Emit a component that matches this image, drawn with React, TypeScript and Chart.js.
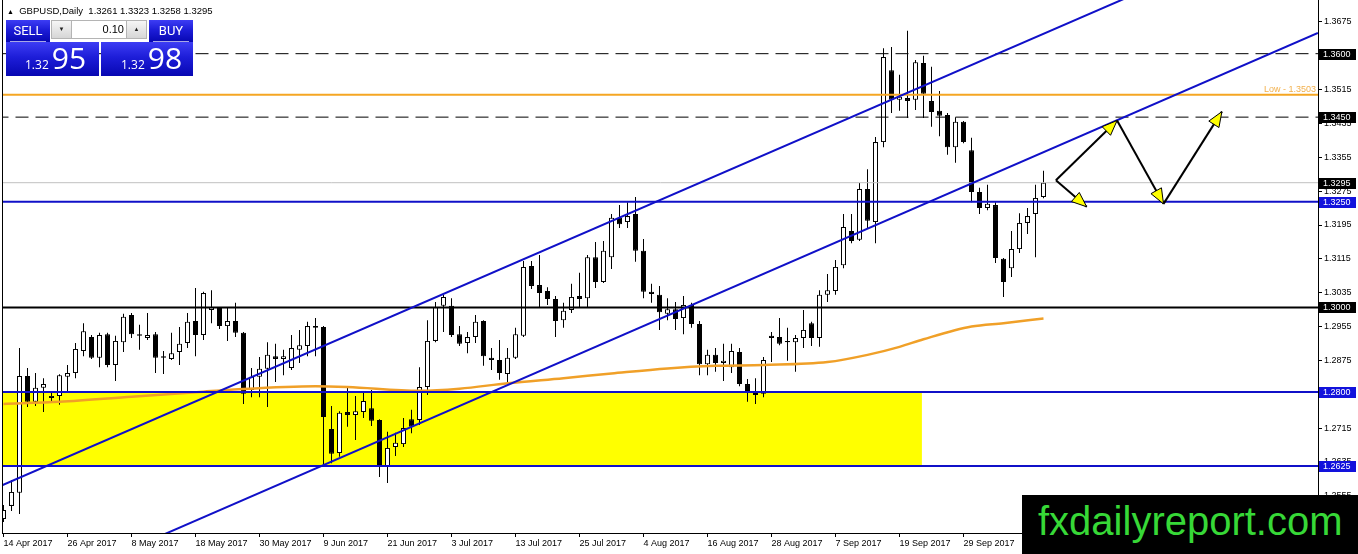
import React, { useEffect, useRef } from "react";
import { Chart, registerables } from "chart.js";

Chart.register(...registerables);

const W = 1358;
const H = 554;

// ---- data ----
const tickLabels = [
  "14 Apr 2017", "26 Apr 2017", "8 May 2017", "18 May 2017", "30 May 2017", "9 Jun 2017",
  "21 Jun 2017", "3 Jul 2017", "13 Jul 2017", "25 Jul 2017", "4 Aug 2017", "16 Aug 2017",
  "28 Aug 2017", "7 Sep 2017", "19 Sep 2017", "29 Sep 2017", "11 Oct 2017",
];
const yTicks = [1.2555, 1.2635, 1.2715, 1.2795, 1.2875, 1.2955, 1.3035, 1.3115, 1.3195, 1.3275, 1.3355, 1.3435, 1.3515, 1.3595, 1.3675];

const opens = [
  1.2500, 1.2531, 1.2562, 1.2838, 1.2777, 1.2810, 1.2786, 1.2791, 1.2836, 1.2845,
  1.2897, 1.2930, 1.2881, 1.2937, 1.2864, 1.2918, 1.2982, 1.2937, 1.2928, 1.2937,
  1.2885, 1.2878, 1.2895, 1.2916, 1.2968, 1.2935, 1.2994, 1.2999, 1.2956, 1.2968,
  1.2940, 1.2805, 1.2836, 1.2855, 1.2885, 1.2878, 1.2857, 1.2900, 1.2909, 1.2956,
  1.2954, 1.2713, 1.2656, 1.2753, 1.2746, 1.2753, 1.2762, 1.2734, 1.2625, 1.2670,
  1.2677, 1.2736, 1.2734, 1.2812, 1.2921, 1.3004, 1.3004, 1.2937, 1.2916, 1.2930,
  1.2968, 1.2881, 1.2876, 1.2843, 1.2881, 1.2933, 1.3098, 1.3053, 1.3039, 1.3020,
  1.2970, 1.2994, 1.3027, 1.3022, 1.3119, 1.3060, 1.3119, 1.3212, 1.3202, 1.3221,
  1.3134, 1.3037, 1.3030, 1.2985, 1.2996, 1.2975, 1.3006, 1.2961, 1.2866, 1.2888,
  1.2869, 1.2859, 1.2895, 1.2819, 1.2798, 1.2796, 1.2933, 1.2930, 1.2921, 1.2918,
  1.2928, 1.2963, 1.2928, 1.3030, 1.3039, 1.3100, 1.3181, 1.3160, 1.3280, 1.3202,
  1.3391, 1.3561, 1.3491, 1.3495, 1.3491, 1.3578, 1.3488, 1.3465, 1.3455, 1.3379,
  1.3439, 1.3372, 1.3273, 1.3235, 1.3242, 1.3115, 1.3093, 1.3138, 1.3200, 1.3221,
  1.3261,
];
const highs = [
  1.2533, 1.2592, 1.2904, 1.2857, 1.2845, 1.2833, 1.2798, 1.2842, 1.2864, 1.2916,
  1.2963, 1.2935, 1.2940, 1.2940, 1.2933, 1.2985, 1.2987, 1.2959, 1.2987, 1.2942,
  1.2897, 1.2940, 1.2954, 1.2987, 1.3046, 1.3037, 1.3041, 1.3001, 1.2999, 1.3011,
  1.2942, 1.2857, 1.2883, 1.2918, 1.2914, 1.2900, 1.2935, 1.2947, 1.2966, 1.2975,
  1.2956, 1.2767, 1.2755, 1.2814, 1.2791, 1.2800, 1.2805, 1.2736, 1.2706, 1.2704,
  1.2739, 1.2758, 1.2859, 1.2970, 1.3013, 1.3030, 1.3022, 1.2956, 1.2942, 1.2982,
  1.2970, 1.2904, 1.2923, 1.2904, 1.2952, 1.3110, 1.3110, 1.3124, 1.3048, 1.3027,
  1.3011, 1.3056, 1.3082, 1.3124, 1.3155, 1.3157, 1.3221, 1.3242, 1.3249, 1.3261,
  1.3162, 1.3056, 1.3051, 1.3022, 1.3013, 1.3027, 1.3011, 1.2968, 1.2900, 1.2904,
  1.2914, 1.2914, 1.2904, 1.2831, 1.2833, 1.2883, 1.2942, 1.2975, 1.2952, 1.2935,
  1.2994, 1.2966, 1.3041, 1.3079, 1.3112, 1.3221, 1.3221, 1.3294, 1.3327, 1.3403,
  1.3613, 1.3616, 1.3550, 1.3654, 1.3585, 1.3595, 1.3569, 1.3512, 1.3460, 1.3450,
  1.3441, 1.3401, 1.3283, 1.3290, 1.3249, 1.3117, 1.3181, 1.3223, 1.3235, 1.3290,
  1.3323,
];
const lows = [
  1.2493, 1.2519, 1.2512, 1.2765, 1.2767, 1.2753, 1.2777, 1.2770, 1.2798, 1.2833,
  1.2885, 1.2878, 1.2859, 1.2859, 1.2826, 1.2895, 1.2928, 1.2900, 1.2923, 1.2845,
  1.2843, 1.2876, 1.2864, 1.2904, 1.2885, 1.2923, 1.2963, 1.2949, 1.2921, 1.2930,
  1.2772, 1.2788, 1.2788, 1.2765, 1.2824, 1.2840, 1.2852, 1.2869, 1.2885, 1.2885,
  1.2628, 1.2632, 1.2647, 1.2718, 1.2687, 1.2739, 1.2720, 1.2599, 1.2585, 1.2649,
  1.2670, 1.2703, 1.2722, 1.2793, 1.2918, 1.2942, 1.2930, 1.2909, 1.2892, 1.2916,
  1.2862, 1.2852, 1.2829, 1.2822, 1.2878, 1.2930, 1.3044, 1.3001, 1.3006, 1.2930,
  1.2952, 1.2987, 1.3001, 1.3001, 1.3046, 1.3058, 1.3091, 1.3188, 1.3188, 1.3108,
  1.3022, 1.3011, 1.2947, 1.2970, 1.2947, 1.2937, 1.2952, 1.2840, 1.2840, 1.2848,
  1.2826, 1.2845, 1.2814, 1.2777, 1.2772, 1.2788, 1.2871, 1.2911, 1.2874, 1.2848,
  1.2904, 1.2909, 1.2907, 1.3013, 1.3030, 1.3093, 1.3152, 1.3157, 1.3188, 1.3152,
  1.3379, 1.3460, 1.3465, 1.3448, 1.3467, 1.3448, 1.3427, 1.3405, 1.3361, 1.3342,
  1.3388, 1.3249, 1.3221, 1.3230, 1.3105, 1.3025, 1.3072, 1.3129, 1.3174, 1.3119,
  1.3258,
];
const closes = [
  1.2521, 1.2564, 1.2838, 1.2777, 1.2810, 1.2819, 1.2791, 1.2840, 1.2845, 1.2902,
  1.2944, 1.2881, 1.2935, 1.2864, 1.2921, 1.2978, 1.2937, 1.2933, 1.2935, 1.2881,
  1.2881, 1.2892, 1.2914, 1.2966, 1.2935, 1.3034, 1.3001, 1.2956, 1.2968, 1.2940,
  1.2796, 1.2836, 1.2855, 1.2888, 1.2878, 1.2885, 1.2904, 1.2911, 1.2956, 1.2952,
  1.2741, 1.2654, 1.2751, 1.2746, 1.2755, 1.2779, 1.2732, 1.2625, 1.2668, 1.2680,
  1.2715, 1.2718, 1.2812, 1.2921, 1.3001, 1.3025, 1.2935, 1.2914, 1.2930, 1.2966,
  1.2885, 1.2876, 1.2845, 1.2881, 1.2937, 1.3096, 1.3051, 1.3034, 1.3020, 1.2968,
  1.2992, 1.3025, 1.3020, 1.3119, 1.3060, 1.3134, 1.3212, 1.3197, 1.3216, 1.3134,
  1.3037, 1.3032, 1.2989, 1.2996, 1.2973, 1.3006, 1.2961, 1.2866, 1.2888, 1.2869,
  1.2874, 1.2897, 1.2819, 1.2798, 1.2793, 1.2876, 1.2928, 1.2914, 1.2918, 1.2928,
  1.2947, 1.2928, 1.3030, 1.3041, 1.3096, 1.3190, 1.3157, 1.3280, 1.3205, 1.3391,
  1.3592, 1.3491, 1.3498, 1.3488, 1.3580, 1.3505, 1.3462, 1.3453, 1.3379, 1.3439,
  1.3391, 1.3273, 1.3235, 1.3245, 1.3117, 1.3060, 1.3138, 1.3200, 1.3216, 1.3259,
  1.3295,
];

// moving average, read at these bar positions
const maIndex = [0, 7, 16, 25, 28, 39, 43, 52, 57, 63, 70, 76, 83, 89, 95, 103, 108, 112, 115, 121, 125, 130];
const maValues = [1.2772, 1.2777, 1.2789, 1.2801, 1.2805, 1.2814, 1.2812, 1.2803, 1.2808, 1.2821, 1.2833, 1.2844, 1.2856, 1.2862, 1.2864, 1.2871, 1.2888, 1.2907, 1.2925, 1.2955, 1.2963, 1.2974];

// horizontal levels
const dashedLevels = [1.36, 1.345];
const orangeLevel = 1.3503;
const bidLevel = 1.3295;
const blackLevel = 1.3;
const blueLevels = [1.325, 1.28, 1.2625];
const zoneTop = 1.28;
const zoneBottom = 1.2625;
const zoneEndBar = 114.8;

// channel trend lines [bar, price]
const upperTrend = [[-0.5, 1.2577], [145, 1.3770]];
const lowerTrend = [[15, 1.2422], [164.3, 1.3649]];

// projected path arrows [bar, price]
const arrowStart = [[131.55, 1.3301], [131.55, 1.3301], [139.2, 1.3442], [145.0, 1.3245]];
const arrowEnd = [[135.4, 1.3238], [139.2, 1.3442], [145.0, 1.3245], [152.3, 1.3463]];

const blackBoxes = [1.36, 1.345, 1.3295, 1.3];
const blueBoxes = [1.325, 1.28, 1.2625];

// ---- styling ----
const X_MIN = -0.0625;
const X_MAX = 164.3125;
const Y_MIN = 1.24669;
const Y_MAX = 1.37269;
const BLUE = "#1010c8";
const BOX_BLUE = "#1212dc";
const ORANGE = "#f5a623";
const MA_ORANGE = "#f0a028";
const FONT = '"Liberation Sans", Arial, sans-serif';

export default function App() {
  const ref = useRef<HTMLCanvasElement>(null);

  useEffect(() => {
    document.body.style.margin = "0";
    const canvas = ref.current;
    if (!canvas) return;

    const wick = opens.map((_, i) => ({ x: i, y: [lows[i], highs[i]] }));
    const body = opens.map((o, i) => ({ x: i, y: [o, closes[i]] }));
    const bodyColors = opens.map((o, i) => (closes[i] >= o ? "#ffffff" : "#000000"));
    const hline = (v: number) => [{ x: -1, y: v }, { x: X_MAX + 2, y: v }];
    const lineBase = { type: "line" as const, pointRadius: 0, pointHoverRadius: 0, clip: 0, tension: 0 };

    const datasets: any[] = [
      {
        ...lineBase,
        data: [{ x: -1, y: zoneTop }, { x: zoneEndBar, y: zoneTop }],
        borderWidth: 0,
        borderColor: "rgba(0,0,0,0)",
        backgroundColor: "#ffff00",
        fill: { value: zoneBottom },
        order: 20,
      },
      {
        type: "bar",
        data: wick,
        backgroundColor: "#000",
        borderWidth: 0,
        barThickness: 1,
        grouped: false,
        inflateAmount: 0,
        clip: 0,
        order: 15,
      },
      {
        type: "bar",
        data: body,
        backgroundColor: bodyColors,
        borderColor: "#000",
        borderWidth: 1,
        borderSkipped: false,
        barThickness: 5,
        grouped: false,
        inflateAmount: 0,
        clip: 0,
        order: 14,
      },
      {
        ...lineBase,
        data: maIndex.map((x, k) => ({ x, y: maValues[k] })),
        borderColor: MA_ORANGE,
        borderWidth: 2.5,
        cubicInterpolationMode: "monotone",
        order: 12,
      },
      ...dashedLevels.map((v) => ({
        ...lineBase,
        data: hline(v),
        borderColor: "#000",
        borderWidth: 1,
        borderDash: [13, 7],
        order: 10,
      })),
      { ...lineBase, data: hline(orangeLevel), borderColor: ORANGE, borderWidth: 2, order: 10 },
      { ...lineBase, data: hline(bidLevel), borderColor: "#c0c0c0", borderWidth: 1, order: 10 },
      { ...lineBase, data: hline(blackLevel), borderColor: "#000", borderWidth: 2, order: 10 },
      ...blueLevels.map((v) => ({ ...lineBase, data: hline(v), borderColor: BLUE, borderWidth: 2, order: 10 })),
      ...[upperTrend, lowerTrend].map((t) => ({
        ...lineBase,
        data: t.map((p) => ({ x: p[0], y: p[1] })),
        borderColor: BLUE,
        borderWidth: 2,
        order: 9,
      })),
      ...arrowStart.map((s, k) => ({
        ...lineBase,
        data: [{ x: s[0], y: s[1] }, { x: arrowEnd[k][0], y: arrowEnd[k][1] }],
        borderColor: "#000",
        borderWidth: 2,
        order: 5,
      })),
    ];

    const framePlugin = {
      id: "frame",
      afterDraw(chart: any) {
        const { ctx, chartArea } = chart;
        ctx.save();
        ctx.fillStyle = "#000";
        ctx.fillRect(chartArea.left - 1, 0, 1, chartArea.bottom + 1);
        ctx.restore();
      },
    };

    const arrowPlugin = {
      id: "arrowHeads",
      afterDatasetsDraw(chart: any) {
        const { ctx, scales } = chart;
        ctx.save();
        arrowStart.forEach((s, k) => {
          const x0 = scales.x.getPixelForValue(s[0]);
          const y0 = scales.y.getPixelForValue(s[1]);
          const x1 = scales.x.getPixelForValue(arrowEnd[k][0]);
          const y1 = scales.y.getPixelForValue(arrowEnd[k][1]);
          const len = Math.hypot(x1 - x0, y1 - y0);
          const ux = (x1 - x0) / len;
          const uy = (y1 - y0) / len;
          const L = 15;
          const w = 6;
          const bx = x1 - ux * L;
          const by = y1 - uy * L;
          ctx.beginPath();
          ctx.moveTo(x1, y1);
          ctx.lineTo(bx - uy * w, by + ux * w);
          ctx.lineTo(bx + uy * w, by - ux * w);
          ctx.closePath();
          ctx.fillStyle = "#ffff00";
          ctx.fill();
          ctx.lineWidth = 1;
          ctx.strokeStyle = "#000";
          ctx.stroke();
        });
        ctx.restore();
      },
    };

    const labelsPlugin = {
      id: "axisBoxes",
      afterDraw(chart: any) {
        const { ctx, scales, chartArea } = chart;
        ctx.save();
        ctx.font = `9px ${FONT}`;
        ctx.textBaseline = "middle";
        const draw = (v: number, bg: string) => {
          const y = Math.round(scales.y.getPixelForValue(v));
          ctx.fillStyle = bg;
          ctx.fillRect(chartArea.right + 1, y - 5, 37, 11);
          ctx.fillStyle = "#fff";
          ctx.textAlign = "left";
          ctx.fillText(v.toFixed(4), chartArea.right + 5, y + 0.5);
        };
        blackBoxes.forEach((v) => draw(v, "#000"));
        blueBoxes.forEach((v) => draw(v, BOX_BLUE));
        // description of the orange level
        const yo = scales.y.getPixelForValue(orangeLevel);
        ctx.fillStyle = "#f2b04c";
        ctx.textAlign = "right";
        ctx.textBaseline = "alphabetic";
        ctx.fillText("Low - " + orangeLevel.toFixed(4), chartArea.right - 2, yo - 2.5);
        ctx.restore();
      },
    };

    const chart = new Chart(canvas, {
      type: "bar",
      data: { datasets },
      options: {
        responsive: false,
        animation: false,
        events: [],
        layout: { padding: { left: 3, top: 0, right: 0, bottom: 0 } },
        plugins: { legend: { display: false }, tooltip: { enabled: false } },
        scales: {
          x: {
            type: "linear",
            min: X_MIN,
            max: X_MAX,
            offset: false,
            grid: { drawOnChartArea: false, drawTicks: true, tickLength: 4, color: "#000", offset: false },
            border: { display: true, color: "#000", width: 1 },
            ticks: {
              autoSkip: false,
              maxRotation: 0,
              minRotation: 0,
              align: "start",
              labelOffset: 0,
              padding: 1,
              color: "#000",
              font: { family: FONT, size: 9 },
              callback: (value: any) => tickLabels[Math.round(Number(value) / 8)] ?? "",
            },
            afterBuildTicks: (s: any) => {
              s.ticks = tickLabels.map((_, k) => ({ value: k * 8 }));
            },
            afterFit: (s: any) => {
              s.height = 21;
              s.paddingLeft = 0;
              s.paddingRight = 0;
            },
          },
          y: {
            type: "linear",
            position: "right",
            min: Y_MIN,
            max: Y_MAX,
            grid: { drawOnChartArea: false, drawTicks: true, tickLength: 4, color: "#000" },
            border: { display: true, color: "#000", width: 1 },
            ticks: {
              color: "#000",
              padding: 2,
              font: { family: FONT, size: 9 },
              callback: (value: any) => Number(value).toFixed(4),
            },
            afterBuildTicks: (s: any) => {
              s.ticks = yTicks.map((v) => ({ value: v }));
            },
            afterFit: (s: any) => {
              s.width = 40;
              s.paddingTop = 0;
              s.paddingBottom = 0;
            },
          },
        },
      } as any,
      plugins: [framePlugin, arrowPlugin, labelsPlugin],
    });

    return () => chart.destroy();
  }, []);

  const grad = "linear-gradient(180deg, #3d3df4 0%, #1d1dd8 45%, #0707b2 100%)";
  const btn = "linear-gradient(180deg, #f6f6f6 0%, #d6d6d6 100%)";

  return (
    <div style={{ position: "relative", width: W, height: H, overflow: "hidden", background: "#fff" }}>
      <canvas ref={ref} width={W} height={H} style={{ display: "block" }} />

      {/* header */}
      <div
        style={{
          position: "absolute",
          left: 7,
          top: 4,
          fontFamily: FONT,
          fontSize: 9.5,
          lineHeight: "14px",
          color: "#000",
          whiteSpace: "pre",
        }}
      >
        <span style={{ fontSize: 7 }}>▲</span>
        {"  GBPUSD,Daily  1.3261 1.3323 1.3258 1.3295"}
      </div>

      {/* one-click trading panel */}
      <div
        style={{
          position: "absolute",
          left: 6,
          top: 20,
          width: 44,
          height: 22,
          background: grad,
          color: "#fff",
          fontFamily: "Roboto, sans-serif",
          fontSize: 13,
          lineHeight: "22px",
          textAlign: "center",
        }}
      >
        SELL
      </div>
      <div style={{ position: "absolute", left: 6, top: 42, width: 93, height: 34, background: grad }} />
      <div style={{ position: "absolute", left: 10, top: 41, width: 36, height: 1, background: "rgba(255,255,255,0.65)" }} />
      <div
        style={{
          position: "absolute",
          left: 149,
          top: 20,
          width: 44,
          height: 22,
          background: grad,
          color: "#fff",
          fontFamily: "Roboto, sans-serif",
          fontSize: 13,
          lineHeight: "22px",
          textAlign: "center",
        }}
      >
        BUY
      </div>
      <div style={{ position: "absolute", left: 101, top: 42, width: 92, height: 34, background: grad }} />
      <div style={{ position: "absolute", left: 153, top: 41, width: 36, height: 1, background: "rgba(255,255,255,0.65)" }} />

      <div
        style={{
          position: "absolute",
          left: 51,
          top: 20,
          width: 96,
          height: 19,
          background: "#fff",
          border: "1px solid #b4b4b4",
          boxSizing: "border-box",
          fontFamily: FONT,
        }}
      >
        <div
          style={{
            position: "absolute",
            left: 0,
            top: 0,
            width: 19,
            height: 17,
            background: btn,
            borderRight: "1px solid #b4b4b4",
            fontSize: 6,
            lineHeight: "17px",
            textAlign: "center",
            color: "#222",
          }}
        >
          ▼
        </div>
        <div style={{ position: "absolute", right: 22, top: 0, fontSize: 11, lineHeight: "17px", color: "#000" }}>0.10</div>
        <div
          style={{
            position: "absolute",
            right: 0,
            top: 0,
            width: 19,
            height: 17,
            background: btn,
            borderLeft: "1px solid #b4b4b4",
            fontSize: 6,
            lineHeight: "17px",
            textAlign: "center",
            color: "#222",
          }}
        >
          ▲
        </div>
      </div>

      {[
        { left: 25, big: "95" },
        { left: 121, big: "98" },
      ].map((p) => (
        <div
          key={p.left}
          style={{
            position: "absolute",
            left: p.left,
            top: 43,
            display: "flex",
            alignItems: "baseline",
            color: "#fff",
            fontFamily: '"Open Sans", sans-serif',
            lineHeight: 1,
          }}
        >
          <span style={{ fontSize: 12, marginRight: 3 }}>1.32</span>
          <span style={{ fontSize: 30 }}>{p.big}</span>
        </div>
      ))}

      {/* watermark */}
      <div style={{ position: "absolute", left: 1022, top: 495, width: 336, height: 59, background: "#000" }}>
        <span
          style={{
            position: "absolute",
            left: 16,
            top: 6,
            fontFamily: FONT,
            fontSize: 40,
            lineHeight: 1,
            color: "#37d837",
            whiteSpace: "nowrap",
          }}
        >
          fxdailyreport.com
        </span>
      </div>
    </div>
  );
}
